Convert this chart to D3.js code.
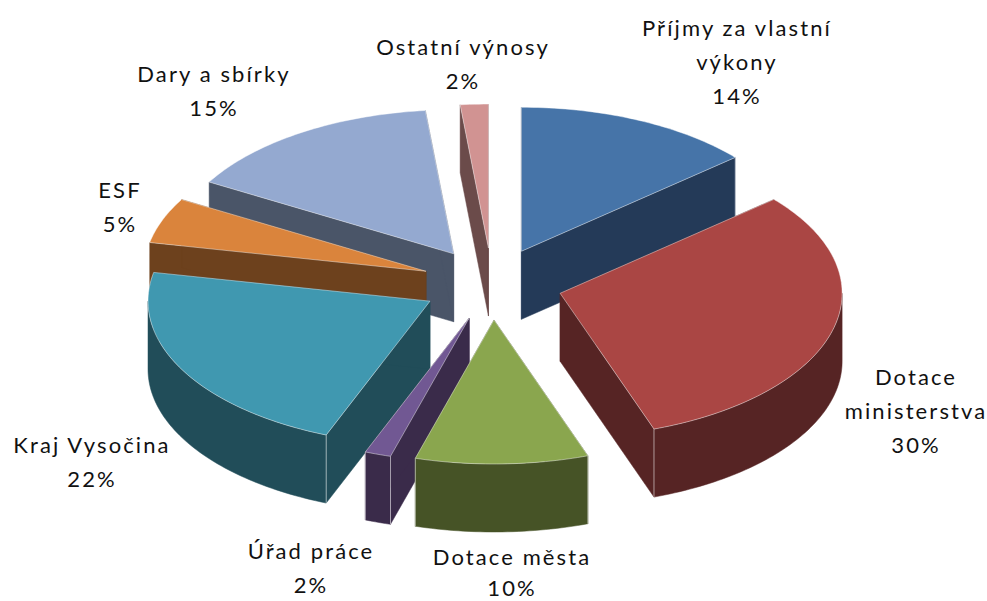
<!DOCTYPE html>
<html>
<head>
<meta charset="utf-8">
<script src="https://cdn.jsdelivr.net/npm/d3@7"></script>
<style>
  body { margin: 0; background: #fff; }
  text { font-family: Lato, "Open Sans", sans-serif; font-size: 22px; fill: #111; letter-spacing: 2.1px; }
</style>
</head>
<body>
<div id="chart"></div>
<script>
const categories = ["Příjmy za vlastní výkony", "Dotace ministerstva", "Dotace města", "Úřad práce",
                    "Kraj Vysočina", "ESF", "Dary a sbírky", "Ostatní výnosy"];
// popisky ukazuji zaokrouhlena procenta, vysece jsou
const percentLabels = [14, 30, 10, 2, 22, 5, 15, 2];
const values = [13.7, 30.9, 9.9, 1.5, 22.2, 5.1, 15.1, 1.6];
const labelLines = [["Příjmy za vlastní", "výkony"], ["Dotace", "ministerstva"], ["Dotace města"], ["Úřad práce"],
                    ["Kraj Vysočina"], ["ESF"], ["Dary a sbírky"], ["Ostatní výnosy"]];
const topColors = ["#4674a8", "#aa4644", "#8aa64e", "#715893", "#4098b0", "#da843c", "#94a9d0", "#d19392"];
const sideColors = ["#243a58", "#562424", "#465326", "#3a2b4a", "#214d59", "#6d411d", "#4a5568", "#6b4b4a"];

const width = 987, height = 601;
const cx = 492, cy = 284, rx = 282, ry = 144, depth = 68, explode = 0.25;

// pozice popisku: stred x, uctari radek y
const labelPos = [[737, 36], [916, 385], [512, 565], [311, 559], [92, 453], [120, 198], [214, 82], [463, 55]];
const lineGap = 34;

const svg = d3.select("#chart").append("svg")
    .attr("width", width)
    .attr("height", height)
    .style("display", "block");

const pie = d3.pie().sort(null).value(d => d);
const slices = pie(values).map((d, i) => ({ ...d, i, mid: (d.startAngle + d.endAngle) / 2 }));

// elipsa = nakloneny kruh
const x = d3.scaleLinear().domain([-1, 1]).range([cx - rx, cx + rx]);
const y = d3.scaleLinear().domain([-1, 1]).range([cy - ry, cy + ry]);

const line = d3.line().x(p => p[0]).y(p => p[1]);

function rimPoint(s, a, dz) {
    const ox = explode * Math.sin(s.mid), oy = -explode * Math.cos(s.mid);
    return [x(ox + Math.sin(a)), y(oy - Math.cos(a)) + dz];
}
function apex(s, dz) {
    return [x(explode * Math.sin(s.mid)), y(-explode * Math.cos(s.mid)) + dz];
}
function arcAngles(a0, a1) {
    const n = Math.max(2, Math.ceil((a1 - a0) / 0.02));
    return d3.range(n + 1).map(k => a0 + (a1 - a0) * k / n);
}

// zezadu dopredu
const order = slices.slice().sort((a, b) => Math.cos(b.mid) - Math.cos(a.mid));

const groups = svg.selectAll(".slice")
    .data(order)
    .enter()
    .append("g")
    .attr("class", "slice");

const edge = "rgba(255,255,255,0.55)";

groups.each(function (s) {
    const g = d3.select(this);
    // bocni steny rezu
    [s.startAngle, s.endAngle].forEach(a => {
        g.append("path")
            .attr("d", line([apex(s, 0), rimPoint(s, a, 0), rimPoint(s, a, depth), apex(s, depth)]) + "Z")
            .attr("fill", sideColors[s.i])
            .attr("stroke", sideColors[s.i])
            .attr("stroke-width", 0.5);
    });
    // vnejsi plast, jen predni cast
    const a0 = Math.max(s.startAngle, Math.PI / 2), a1 = Math.min(s.endAngle, Math.PI * 1.5);
    if (a1 > a0) {
        const angles = arcAngles(a0, a1);
        const outer = angles.map(a => rimPoint(s, a, 0)).concat(angles.slice().reverse().map(a => rimPoint(s, a, depth)));
        g.append("path")
            .attr("d", line(outer) + "Z")
            .attr("fill", sideColors[s.i])
            .attr("stroke", sideColors[s.i])
            .attr("stroke-width", 0.5);
    }
    // svisla hrana na rezu
    [s.startAngle, s.endAngle].forEach(a => {
        if (a > Math.PI / 4 && a < Math.PI * 1.35) {
            g.append("path")
                .attr("d", line([rimPoint(s, a, 0), rimPoint(s, a, depth)]))
                .attr("stroke", edge)
                .attr("stroke-width", 1);
        }
    });
    // vrchni plocha
    const top = [apex(s, 0)].concat(arcAngles(s.startAngle, s.endAngle).map(a => rimPoint(s, a, 0)));
    g.append("path")
        .attr("d", line(top) + "Z")
        .attr("fill", topColors[s.i])
        .attr("stroke", edge)
        .attr("stroke-width", 0.8);
});

// popisky
const labels = svg.selectAll(".label")
    .data(slices)
    .enter()
    .append("text")
    .attr("class", "label")
    .attr("text-anchor", "middle");

labels.each(function (s) {
    const t = d3.select(this);
    const [lx, ly] = labelPos[s.i];
    const gap = s.i === 2 ? 31 : lineGap; // posledni radek se jinak nevejde
    labelLines[s.i].concat([percentLabels[s.i] + "%"]).forEach((txt, k) => {
        t.append("tspan").attr("x", lx).attr("y", ly + k * gap).text(txt);
    });
});
</script>
</body>
</html>
